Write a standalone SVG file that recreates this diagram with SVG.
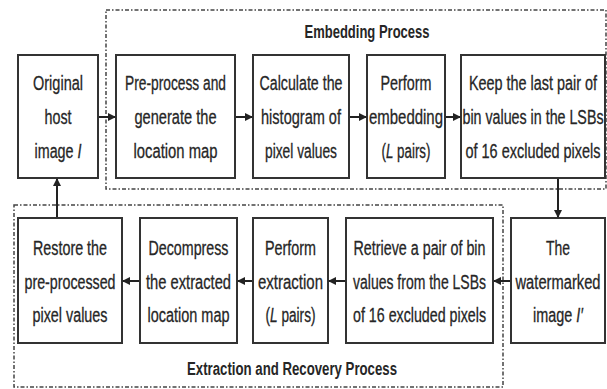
<svg xmlns="http://www.w3.org/2000/svg" width="607" height="389" viewBox="0 0 607 389">
<defs>
<marker id="ah" markerWidth="8" markerHeight="8" refX="7" refY="4" orient="auto" markerUnits="userSpaceOnUse">
<path d="M0,0 L8,4 L0,8 Z" fill="#222"/>
</marker>
<style>
.box{fill:#fff;stroke:#333;stroke-width:2}
.grp{fill:none;stroke:#444;stroke-width:1.5;stroke-dasharray:4 2 1.5 2}
.t{font-family:"Liberation Sans",Arial,sans-serif;font-size:20px;fill:#262626;stroke:#262626;stroke-width:0.3;text-anchor:middle}
.h{font-family:"Liberation Sans",Arial,sans-serif;font-size:19px;font-weight:bold;fill:#262626;text-anchor:middle}
.c{stroke:#222;stroke-width:2;fill:none;marker-end:url(#ah)}
</style>
</defs>
<rect width="607" height="389" fill="#fff"/>
<g id="embedding-group">
<rect class="grp" x="106" y="10" width="500" height="179"/>
<g transform="translate(367 0) scale(0.68 1)"><text class="h" x="0" y="38" textLength="183.8" lengthAdjust="spacingAndGlyphs">Embedding Process</text></g>
</g>
<g id="extraction-group">
<rect class="grp" x="14" y="205" width="489" height="182"/>
<g transform="translate(292 0) scale(0.68 1)"><text class="h" x="0" y="375" textLength="308.8" lengthAdjust="spacingAndGlyphs">Extraction and Recovery Process</text></g>
</g>
<g id="n-original">
<rect class="box" x="18" y="55" width="80" height="123"/>
<g transform="translate(58 0) scale(0.68 1)">
<text class="t" x="0" y="90" textLength="73.5" lengthAdjust="spacingAndGlyphs">Original</text>
<text class="t" x="0" y="124" textLength="39.7" lengthAdjust="spacingAndGlyphs">host</text>
<text class="t" x="0" y="158" textLength="69.1" lengthAdjust="spacingAndGlyphs">image <tspan font-style="italic">I</tspan></text>
</g>
</g>
<g id="n-preprocess">
<rect class="box" x="116" y="55" width="119" height="123"/>
<g transform="translate(175.5 0) scale(0.68 1)">
<text class="t" x="0" y="90" textLength="148.5" lengthAdjust="spacingAndGlyphs">Pre-process and</text>
<text class="t" x="0" y="124" textLength="120.6" lengthAdjust="spacingAndGlyphs">generate the</text>
<text class="t" x="0" y="158" textLength="123.5" lengthAdjust="spacingAndGlyphs">location map</text>
</g>
</g>
<g id="n-histogram">
<rect class="box" x="253" y="55" width="96" height="123"/>
<g transform="translate(301 0) scale(0.68 1)">
<text class="t" x="0" y="90" textLength="122" lengthAdjust="spacingAndGlyphs">Calculate the</text>
<text class="t" x="0" y="124" textLength="117.6" lengthAdjust="spacingAndGlyphs">histogram of</text>
<text class="t" x="0" y="158" textLength="105.9" lengthAdjust="spacingAndGlyphs">pixel values</text>
</g>
</g>
<g id="n-embed">
<rect class="box" x="367" y="55" width="78" height="123"/>
<g transform="translate(406 0) scale(0.68 1)">
<text class="t" x="0" y="90" textLength="75" lengthAdjust="spacingAndGlyphs">Perform</text>
<text class="t" x="0" y="124" textLength="108.8" lengthAdjust="spacingAndGlyphs">embedding</text>
<text class="t" x="0" y="158" textLength="72" lengthAdjust="spacingAndGlyphs">(<tspan font-style="italic">L</tspan> pairs)</text>
</g>
</g>
<g id="n-keep">
<rect class="box" x="461" y="55" width="144" height="123"/>
<g transform="translate(533 0) scale(0.68 1)">
<text class="t" x="0" y="90" textLength="188.2" lengthAdjust="spacingAndGlyphs">Keep the last pair of</text>
<text class="t" x="0" y="124" textLength="207.4" lengthAdjust="spacingAndGlyphs">bin values in the LSBs</text>
<text class="t" x="0" y="158" textLength="198.5" lengthAdjust="spacingAndGlyphs">of 16 excluded pixels</text>
</g>
</g>
<g id="n-watermarked">
<rect class="box" x="511" y="218" width="94" height="125"/>
<g transform="translate(558 0) scale(0.68 1)">
<text class="t" x="0" y="255" textLength="35.3" lengthAdjust="spacingAndGlyphs">The</text>
<text class="t" x="0" y="289" textLength="125" lengthAdjust="spacingAndGlyphs">watermarked</text>
<text class="t" x="0" y="322" textLength="73.5" lengthAdjust="spacingAndGlyphs">image <tspan font-style="italic">I′</tspan></text>
</g>
</g>
<g id="n-retrieve">
<rect class="box" x="346" y="218" width="147" height="125"/>
<g transform="translate(419.5 0) scale(0.68 1)">
<text class="t" x="0" y="255" textLength="194.1" lengthAdjust="spacingAndGlyphs">Retrieve a pair of bin</text>
<text class="t" x="0" y="289" textLength="195.6" lengthAdjust="spacingAndGlyphs">values from the LSBs</text>
<text class="t" x="0" y="322" textLength="195.6" lengthAdjust="spacingAndGlyphs">of 16 excluded pixels</text>
</g>
</g>
<g id="n-extract">
<rect class="box" x="253" y="218" width="75" height="125"/>
<g transform="translate(290.5 0) scale(0.68 1)">
<text class="t" x="0" y="255" textLength="75" lengthAdjust="spacingAndGlyphs">Perform</text>
<text class="t" x="0" y="289" textLength="95.6" lengthAdjust="spacingAndGlyphs">extraction</text>
<text class="t" x="0" y="322" textLength="73.5" lengthAdjust="spacingAndGlyphs">(<tspan font-style="italic">L</tspan> pairs)</text>
</g>
</g>
<g id="n-decompress">
<rect class="box" x="140" y="218" width="97" height="125"/>
<g transform="translate(188.5 0) scale(0.68 1)">
<text class="t" x="0" y="255" textLength="117.6" lengthAdjust="spacingAndGlyphs">Decompress</text>
<text class="t" x="0" y="289" textLength="125" lengthAdjust="spacingAndGlyphs">the extracted</text>
<text class="t" x="0" y="322" textLength="120.6" lengthAdjust="spacingAndGlyphs">location map</text>
</g>
</g>
<g id="n-restore">
<rect class="box" x="18" y="218" width="104" height="125"/>
<g transform="translate(70 0) scale(0.68 1)">
<text class="t" x="0" y="255" textLength="108.8" lengthAdjust="spacingAndGlyphs">Restore the</text>
<text class="t" x="0" y="289" textLength="133.8" lengthAdjust="spacingAndGlyphs">pre-processed</text>
<text class="t" x="0" y="322" textLength="110.3" lengthAdjust="spacingAndGlyphs">pixel values</text>
</g>
</g>
<g id="connectors">
<line class="c" x1="99" y1="117" x2="115" y2="117"/>
<line class="c" x1="236" y1="117" x2="252" y2="117"/>
<line class="c" x1="350" y1="117" x2="366" y2="117"/>
<line class="c" x1="446" y1="117" x2="460" y2="117"/>
<line class="c" x1="558" y1="179" x2="558" y2="217"/>
<line class="c" x1="510" y1="281" x2="494" y2="281"/>
<line class="c" x1="345" y1="281" x2="329" y2="281"/>
<line class="c" x1="252" y1="281" x2="238" y2="281"/>
<line class="c" x1="139" y1="281" x2="123" y2="281"/>
<line class="c" x1="57" y1="217" x2="57" y2="179"/>
</g>
</svg>
